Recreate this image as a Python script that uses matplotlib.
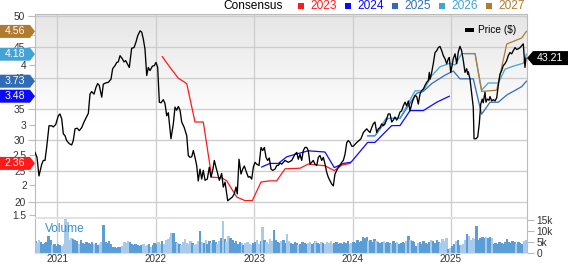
import numpy as np
import matplotlib
matplotlib.use("Agg")
import matplotlib.pyplot as plt
from matplotlib.patches import Polygon, Rectangle
from matplotlib.transforms import IdentityTransform
from matplotlib.ticker import FuncFormatter

plt.rcParams['font.family'] = ['Liberation Sans', 'DejaVu Sans']

# ---------------- data ----------------
price_t = [2020.777, 2020.797, 2020.817, 2020.845, 2020.861, 2020.878, 2020.895, 2020.919, 2020.946, 2020.962,
           2020.987, 2021.013, 2021.030, 2021.048, 2021.064, 2021.081, 2021.098, 2021.125, 2021.149, 2021.165,
           2021.183, 2021.206, 2021.226, 2021.251, 2021.274, 2021.302, 2021.318, 2021.335, 2021.352, 2021.376,
           2021.396, 2021.413, 2021.429, 2021.454, 2021.470, 2021.494, 2021.521, 2021.548, 2021.565, 2021.589,
           2021.606, 2021.622, 2021.640, 2021.663, 2021.680, 2021.697, 2021.714, 2021.734, 2021.758, 2021.782,
           2021.802, 2021.819, 2021.843, 2021.860, 2021.876, 2021.893, 2021.911, 2021.927, 2021.944, 2021.968,
           2021.988, 2022.005, 2022.022, 2022.039, 2022.056, 2022.079, 2022.096, 2022.114, 2022.130, 2022.157,
           2022.181, 2022.198, 2022.215, 2022.232, 2022.249, 2022.266, 2022.292, 2022.317, 2022.333, 2022.350,
           2022.368, 2022.384, 2022.401, 2022.418, 2022.434, 2022.452, 2022.469, 2022.485, 2022.503, 2022.526,
           2022.546, 2022.563, 2022.581, 2022.597, 2022.614, 2022.631, 2022.648, 2022.672, 2022.688, 2022.706,
           2022.733, 2022.756, 2022.780, 2022.800, 2022.817, 2022.830, 2022.848, 2022.868, 2022.885, 2022.902,
           2022.919, 2022.942, 2022.959, 2022.977, 2022.993, 2023.010, 2023.027, 2023.051, 2023.071, 2023.088,
           2023.105, 2023.122, 2023.139, 2023.155, 2023.173, 2023.190, 2023.213, 2023.231, 2023.247, 2023.264,
           2023.281, 2023.315, 2023.348, 2023.383, 2023.416, 2023.434, 2023.450, 2023.467, 2023.484, 2023.501,
           2023.518, 2023.535, 2023.551, 2023.569, 2023.586, 2023.602, 2023.619, 2023.637, 2023.653, 2023.670,
           2023.687, 2023.704, 2023.721, 2023.738, 2023.754, 2023.772, 2023.789, 2023.805, 2023.822, 2023.840,
           2023.856, 2023.873, 2023.890, 2023.907, 2023.924, 2023.942, 2023.957, 2023.975, 2023.992, 2024.008,
           2024.025, 2024.043, 2024.066, 2024.086, 2024.110, 2024.127, 2024.144, 2024.160, 2024.178, 2024.195,
           2024.211, 2024.228, 2024.246, 2024.262, 2024.279, 2024.296, 2024.313, 2024.330, 2024.347, 2024.363,
           2024.381, 2024.398, 2024.414, 2024.431, 2024.449, 2024.465, 2024.482, 2024.499, 2024.516, 2024.533,
           2024.550, 2024.567, 2024.584, 2024.601, 2024.617, 2024.635, 2024.652, 2024.668, 2024.685, 2024.703,
           2024.719, 2024.736, 2024.753, 2024.770, 2024.780, 2024.787, 2024.804, 2024.820, 2024.838, 2024.855,
           2024.871, 2024.888, 2024.906, 2024.922, 2024.939, 2024.956, 2024.973, 2024.983, 2024.997, 2025.007,
           2025.023, 2025.041, 2025.058, 2025.074, 2025.091, 2025.108, 2025.125, 2025.142, 2025.159, 2025.170,
           2025.176, 2025.193, 2025.210, 2025.226, 2025.234, 2025.254, 2025.271, 2025.287, 2025.302, 2025.317,
           2025.327, 2025.345, 2025.355, 2025.369, 2025.386, 2025.396, 2025.413, 2025.430, 2025.447, 2025.464,
           2025.480, 2025.497, 2025.515, 2025.531, 2025.548, 2025.565, 2025.581, 2025.599, 2025.616, 2025.632,
           2025.650, 2025.667, 2025.683, 2025.701, 2025.718, 2025.734, 2025.751, 2025.761]
price_v = [28.0, 27.2, 24.2, 26.1, 26.7, 26.7, 28.8, 32.3, 32.3, 32.1,
           32.5, 33.9, 34.2, 33.4, 31.0, 30.7, 29.9, 29.4, 29.2, 29.9,
           31.8, 31.9, 31.5, 32.0, 32.9, 33.8, 34.3, 37.4, 37.8, 37.4,
           38.5, 39.1, 38.8, 36.9, 39.0, 39.2, 39.3, 39.8, 41.5, 42.0,
           42.5, 42.6, 43.6, 43.1, 42.6, 42.8, 42.3, 41.7, 44.8, 44.9,
           45.8, 46.8, 47.6, 47.4, 46.3, 44.7, 40.4, 41.7, 41.2, 41.9,
           42.0, 42.5, 41.7, 36.1, 36.0, 36.5, 35.9, 33.9, 34.4, 30.2,
           32.6, 35.3, 34.8, 35.4, 34.8, 32.9, 32.0, 30.7, 27.5, 27.2,
           27.3, 28.3, 27.2, 25.9, 23.4, 25.3, 23.7, 25.1, 23.5, 23.7,
           25.6, 24.0, 25.1, 26.7, 25.6, 24.6, 23.5, 24.6, 22.4, 23.2,
           20.2, 20.5, 20.8, 21.3, 22.4, 21.3, 26.9, 24.5, 25.3, 25.8,
           25.0, 24.0, 24.1, 23.7, 25.6, 26.4, 26.1, 25.9, 28.8, 28.3,
           28.8, 27.2, 26.7, 27.1, 25.3, 25.1, 25.3, 25.9, 25.9, 26.3,
           26.1, 26.7, 26.4, 26.7, 27.7, 28.0, 26.9, 27.7, 26.7, 28.3,
           28.8, 28.8, 28.3, 26.1, 26.4, 26.7, 26.1, 25.9, 27.2, 27.5,
           26.7, 27.2, 26.1, 24.8, 24.0, 23.4, 22.9, 22.6, 24.5, 25.1,
           25.6, 25.9, 26.4, 26.7, 27.7, 29.6, 29.9, 29.6, 29.0, 29.0,
           29.3, 29.6, 29.9, 30.2, 31.2, 31.5, 31.8, 31.5, 31.2, 32.0,
           32.6, 32.9, 31.2, 31.8, 32.0, 32.6, 32.3, 32.6, 33.4, 34.2,
           34.2, 32.9, 33.2, 33.7, 33.2, 33.7, 34.5, 34.7, 35.5, 36.1,
           35.5, 36.3, 34.7, 35.8, 36.6, 37.2, 37.0, 35.8, 37.4, 38.0,
           38.2, 38.8, 39.3, 39.6, 40.9, 39.8, 40.9, 42.3, 44.1, 44.4,
           44.9, 45.1, 44.4, 43.6, 43.1, 42.3, 43.1, 43.3, 40.9, 41.7,
           43.1, 43.9, 42.3, 44.2, 45.1, 44.4, 42.8, 40.9, 41.5, 40.6,
           41.0, 39.8, 37.4, 35.3, 30.2, 30.2, 30.5, 32.6, 35.8, 36.6,
           36.0, 37.7, 36.1, 36.6, 36.4, 37.0, 36.3, 36.5, 36.3, 36.8,
           38.8, 40.6, 41.2, 42.0, 42.3, 42.8, 43.6, 44.1, 43.9, 44.4,
           44.9, 44.6, 44.7, 44.9, 45.2, 45.5, 41.7, 43.21]

eps2023_t = [2022.069, 2022.147, 2022.232, 2022.317, 2022.401, 2022.485, 2022.571, 2022.672, 2022.723, 2022.824,
             2022.909, 2022.983, 2023.071, 2023.162, 2023.230, 2023.315, 2023.467, 2023.551, 2023.721, 2023.815,
             2023.890, 2023.975]
eps2023_v = [4.14, 3.96, 3.78, 3.69, 3.05, 3.05, 2.13, 2.12, 2.07, 1.80,
             1.74, 1.74, 2.05, 2.07, 2.07, 2.27, 2.28, 2.35, 2.32, 2.24,
             2.33, 2.36]
eps2024_t = [2023.078, 2023.162, 2023.247, 2023.332, 2023.416, 2023.551, 2023.721, 2023.815, 2023.907, 2023.985,
             2024.154, 2024.228, 2024.398, 2024.482, 2024.584, 2024.719, 2024.855, 2024.983]
eps2024_v = [2.30, 2.36, 2.36, 2.47, 2.51, 2.57, 2.55, 2.29, 2.36, 2.38,
             2.71, 2.71, 2.99, 2.99, 3.24, 3.24, 3.38, 3.48]
eps2025_t = [2024.154, 2024.228, 2024.360, 2024.482, 2024.652, 2024.719, 2024.804, 2024.939, 2025.023, 2025.091,
             2025.226, 2025.311, 2025.396, 2025.480, 2025.566, 2025.718, 2025.765]
eps2025_v = [2.82, 2.82, 3.11, 3.11, 3.53, 3.56, 3.69, 3.83, 3.90, 3.77,
             3.77, 3.18, 3.38, 3.38, 3.50, 3.64, 3.73]
eps2026_t = [2024.154, 2024.228, 2024.340, 2024.482, 2024.635, 2024.719, 2024.804, 2024.888, 2024.990, 2025.041,
             2025.109, 2025.244, 2025.311, 2025.378, 2025.480, 2025.548, 2025.632, 2025.734, 2025.765]
eps2026_v = [2.82, 2.82, 3.11, 3.11, 3.57, 3.57, 3.82, 3.97, 4.03, 4.00,
             4.19, 4.19, 3.58, 3.70, 3.70, 3.93, 3.98, 4.03, 4.18]
eps2027_t = [2025.142, 2025.244, 2025.311, 2025.464, 2025.566, 2025.718, 2025.765]
eps2027_v = [4.19, 4.19, 3.56, 3.58, 4.35, 4.45, 4.56]

volume_start = 2020.78   # first weekly bar (decimal year)
volume_k = [5.5, 4.5, 6.0, 5.0, 4.0, 4.5, 5.0,
            7.7,
            6.0, 3.5, 4.0, 3.0, 4.0, 3.5, 3.0, 4.0,
            15.5, 14.5,
            6.0, 7.0, 6.5, 6.0, 5.5, 4.0, 6.0, 4.5, 4.0, 5.0, 4.5, 4.0, 5.0, 4.0, 4.5, 3.5, 4.0, 5.0,
            12.9,
            5.0, 4.5, 5.5, 4.0,
            2.6, 2.8, 2.5, 2.7, 2.6, 3.0,
            5.0, 4.5, 5.5, 5.0, 4.0, 3.5, 4.0, 3.5, 3.0,
            3.5, 4.0, 3.0, 3.5, 4.0, 2.8, 3.5, 4.5, 4.0, 5.0,
            4.0, 5.5, 4.0, 6.0, 6.5, 7.5,
            9.3, 9.0,
            5.0, 4.5, 4.0, 3.5, 5.0, 6.5, 4.5, 4.0, 5.5, 4.5, 3.5, 4.0, 5.5,
            10.0,
            5.0, 4.5, 6.0, 4.0, 5.5, 4.5, 6.0, 5.0, 4.0, 5.5, 7.0,
            14.6,
            6.5, 5.0,
            8.0,
            7.0, 6.0, 4.5, 5.5, 4.0, 5.0, 4.5, 3.5, 4.5, 5.0, 4.0, 3.5, 4.5, 5.0, 6.0, 4.0, 5.5,
            12.0,
            6.0, 5.0, 4.0, 6.5, 5.5,
            10.4,
            6.0, 5.0, 4.5, 5.5, 6.0, 4.5,
            8.9,
            5.5, 4.5, 4.0, 5.0, 4.5, 3.5, 4.0, 5.0, 4.5, 4.0,
            4.5, 5.0, 4.0, 4.5, 5.5, 4.5, 4.0, 5.0, 4.5, 4.0,
            5.0, 4.5, 5.5, 4.0, 4.5, 5.0, 4.0, 4.5, 4.0, 5.0,
            4.5, 5.5, 4.0, 4.5, 5.0, 4.5, 6.0, 5.0, 5.5,
            7.5, 7.0, 7.5,
            5.5, 6.0, 5.0, 6.5, 5.5, 5.0, 4.5, 5.0, 5.5, 4.5,
            5.0, 4.5, 4.0, 5.5, 4.5, 5.0, 4.0, 4.5, 5.0, 4.5, 5.5,
            7.8,
            6.0, 5.5, 5.0, 3.0, 4.5, 5.0, 4.0, 5.5, 4.5, 4.0,
            5.0, 6.0, 5.5, 4.5, 6.0, 5.0, 4.5, 6.5, 5.5,
            7.0,
            2.0, 2.5, 3.0,
            4.0, 5.5, 6.0, 3.5, 3.5, 4.0, 6.0,
            8.9, 8.0,
            6.0, 7.0, 6.5,
            12.6,
            6.0, 7.0, 7.5, 7.0, 7.5, 7.0, 7.5, 7.0,
            4.0, 4.5, 4.0, 5.0, 4.5, 4.0, 5.0,
            6.5,
            5.0, 4.5, 5.5, 5.0, 4.0, 5.0, 4.5, 4.0, 5.5, 6.0]

years = [2021, 2022, 2023, 2024, 2025]
price_ticks = [20, 25, 30, 35, 40, 45, 50]
eps_ticks = [1.5, 2.0, 2.5, 3.0, 4.0]
eps_tick_labels = ['1.5', '2', '2.5', '3', '4']
eps_hidden_ticks = [3.5, 4.5]   # labels covered by the value tags
vol_ticks = [0, 5, 10, 15]
series_names = ['2023', '2024', '2025', '2026', '2027']
series_colors = ['#ff1a1a', '#0a0aff', '#2f6cb8', '#41a3d6', '#b07a30']

# ---------------- figure ----------------
W, H = 568, 264
fig = plt.figure(figsize=(W / 100, H / 100), dpi=100)

x0, x1 = 35, 527
py0, py1 = 14, 217
vy0, vy1 = 217, 253

def fr(xa, xb, ya, yb):
    return [xa / W, 1 - yb / H, (xb - xa) / W, (yb - ya) / H]

xlim = (2020.7766, 2025.7716)
grid_c = '#cccccc'
spine_c = '#bbbbbb'
txt_c = '#333333'

ax = fig.add_axes(fr(x0, x1, py0, py1))
ax.set_xlim(*xlim)
ax.set_ylim(17.58, 50.32)
grad = np.linspace(0, 1, 256).reshape(-1, 1)
ax.imshow(np.dstack([0.90 + 0.10 * np.clip((1 - grad[::-1]) * 1.9, 0, 1)] * 3),
          extent=(0, 1, 0, 1), transform=ax.transAxes, aspect='auto', zorder=0, origin='upper')
ax.set_yticks(price_ticks)
ax.yaxis.tick_right()
ax.tick_params(axis='y', which='both', right=True, left=False, length=5, color=spine_c,
               labelsize=7.3, labelcolor=txt_c, pad=2)
ax.set_xticks(years)
ax.tick_params(axis='x', bottom=False, labelbottom=False)
ax.grid(True, color=grid_c, lw=0.9, zorder=1)
ax.set_axisbelow(True)
for s in ['left', 'right', 'top']:
    ax.spines[s].set_color(spine_c)
ax.spines['bottom'].set_visible(False)

ax_eps = ax.twinx()
ax_eps.set_ylim(1.467, 4.85)
ax_eps.yaxis.tick_left()
ax_eps.set_yticks(eps_ticks)
ax_eps.set_yticklabels(eps_tick_labels)
ax_eps.set_yticks(eps_hidden_ticks, minor=True)
ax_eps.tick_params(axis='y', which='both', left=True, right=False, labelleft=True, labelright=False,
                   length=4, color=spine_c, labelsize=7.3, labelcolor=txt_c, pad=2)
for s in ax_eps.spines.values():
    s.set_visible(False)
series = [(eps2023_t, eps2023_v), (eps2024_t, eps2024_v), (eps2025_t, eps2025_v),
          (eps2026_t, eps2026_v), (eps2027_t, eps2027_v)]
for (t, v), c in zip(series, series_colors):
    ax_eps.plot(t, v, color=c, lw=0.9, solid_joinstyle='round')

ax_px = ax.twinx()
ax_px.set_ylim(ax.get_ylim())
ax_px.set_xlim(*xlim)
ax_px.axis('off')
ax_px.plot(price_t, price_v, color='black', lw=0.95)

# Price legend
ax_px.add_patch(Rectangle((0.874, 0.91), 0.018, 0.022, transform=ax_px.transAxes,
                          facecolor='black', edgecolor='none', clip_on=False))
ax_px.text(0.9, 0.921, 'Price ($)', transform=ax_px.transAxes, fontsize=7.3,
           color='black', va='center', ha='left')

# Volume panel
axv = fig.add_axes(fr(x0, x1, vy0, vy1))
axv.set_xlim(*xlim)
axv.set_ylim(0, 16.6)
vt = volume_start + np.arange(len(volume_k)) / 52.0
p_at = np.interp(vt, price_t, price_v)
up = np.r_[True, np.diff(p_at) >= 0]
vcols = np.where(up, '#5b9dd6', '#a9cbea')
axv.bar(vt, volume_k, width=1.3 / 52, color=vcols, linewidth=0, zorder=2)
axv.set_xticks(years)
axv.set_xticklabels([str(y) for y in years])
axv.tick_params(axis='x', length=0, labelsize=7.1, labelcolor=txt_c, pad=0.5)
axv.grid(True, axis='x', color=grid_c, lw=0.9, zorder=1)
axv.set_axisbelow(True)
axv.yaxis.tick_right()
axv.set_yticks(vol_ticks)
axv.yaxis.set_major_formatter(FuncFormatter(lambda v, p: '0' if v == 0 else f'{int(v)}k'))
axv.tick_params(axis='y', right=True, left=False, length=5, color=spine_c,
                labelsize=7.3, labelcolor=txt_c, pad=2)
for s in ['left', 'right']:
    axv.spines[s].set_color(spine_c)
axv.spines['bottom'].set_color('#dddddd')
axv.spines['top'].set_visible(False)
axv.axhspan(15.8, 16.6, color='#e2e2e2', zorder=3, lw=0)
axv.text(0.02, 0.68, 'Volume', transform=axv.transAxes, fontsize=8.6, color='#3d8fd0',
         ha='left', va='center')

# Top legend
fig.text(223 / W, 1 - 6 / H, 'Consensus', fontsize=8.6, color='black', ha='left', va='center')
leg_x = [310, 357, 404, 451, 498]
for name, c, lx in zip(series_names, series_colors, leg_x):
    fig.patches.append(Rectangle(((lx - 12) / W, 1 - 9 / H), 6 / W, 6 / H,
                                 transform=fig.transFigure, facecolor=c, edgecolor='none'))
    fig.text(lx / W, 1 - 6 / H, name, fontsize=8.6, color=c, ha='left', va='center')

# Value tags (need final layout transforms)
fig.canvas.draw()

def left_tag(val, color):
    yd = ax_eps.transData.transform((xlim[0], val))[1]
    h = 6.5
    poly = Polygon([(0, yd - h), (30, yd - h), (35, yd), (30, yd + h), (0, yd + h)],
                   closed=True, transform=IdentityTransform(), facecolor=color, edgecolor='none',
                   zorder=20)
    fig.patches.append(poly)
    fig.text(15 / W, yd / H, f'{val:.2f}', fontsize=7.6, color='white', ha='center', va='center',
             zorder=21)

for (t, v), c in zip(series, series_colors):
    left_tag(v[-1], c)

yd = ax.transData.transform((xlim[1], price_v[-1]))[1]
h = 7
fig.patches.append(Polygon([(527, yd), (533, yd - h), (568, yd - h), (568, yd + h), (533, yd + h)],
                           closed=True, transform=IdentityTransform(), facecolor='black',
                           edgecolor='none', zorder=20))
fig.text(550 / W, yd / H, f'{price_v[-1]:.2f}', fontsize=7.6, color='white', ha='center',
         va='center', zorder=21)

fig.savefig('out.png', dpi=100)
